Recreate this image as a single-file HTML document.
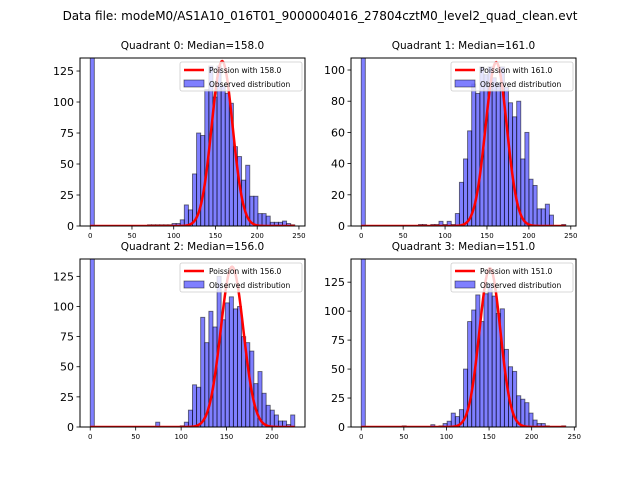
<!DOCTYPE html>
<html><head><meta charset="utf-8"><style>
html,body{margin:0;padding:0;background:#fff;}
svg{display:block;font-family:"DejaVu Sans","Liberation Sans",sans-serif;}
</style></head><body>
<svg id="fig" width="640" height="480">
<text x="320" y="20" text-anchor="middle" font-size="12">Data file: modeM0/AS1A10_016T01_9000004016_27804cztM0_level2_quad_clean.evt</text>
</svg>
<script>
const medians = [158.0, 161.0, 156.0, 151.0];
const xmaxs = [245, 244, 225, 240];
const ymaxs = [135.5, 107.7, 139.4, 145];
const peaks = [133, 105, 133, 137];
const yStep = [25, 20, 25, 25];
const xTicks = [[0,50,100,150,200,250],[0,50,100,150,200,250],[0,50,100,150,200],[0,50,100,150,200,250]];
const counts0 = [1200,0,0,0,0,0,0,0,0,0,0,0,0,0,1,1,1,1,1,1,2,2,5,17,13,42,75,73,110,129,104,129,113,107,99,64,56,37,49,24,24,10,10,8,3,3,3,4,2,1];
const counts1 = [1200,0,0,0,0,0,0,0,0,0,0,0,0,0,1,1,0,1,1,3,1,3,1,8,28,43,61,91,85,102,97,102,95,92,102,89,79,70,80,43,60,30,26,11,11,14,7,0,0,1];
const counts2 = [1200,0,0,0,0,0,0,0,0,0,0,0,0,0,0,0,4,0,0,0,0,0,1,4,14,35,33,91,70,96,83,125,89,103,108,98,100,75,70,63,36,46,28,18,14,10,5,5,2,10];
const counts3 = [1200,0,0,0,0,0,0,0,0,0,1,0,0,0,0,0,0,2,0,1,3,5,12,9,15,50,91,101,114,91,115,124,113,98,102,67,52,48,27,24,21,12,6,3,3,1,0,0,0,1];
const allCounts = [counts0, counts1, counts2, counts3];

const NS = "http://www.w3.org/2000/svg";
const svg = document.getElementById('fig');
const boxes = [[80,58,305,226],[351,58,576,226],[80,259,305,427],[351,259,576,427]];
function mk(tag, attrs, parent){const e=document.createElementNS(NS,tag);for(const k in attrs)e.setAttribute(k,attrs[k]);(parent||svg).appendChild(e);return e;}

for(let q=0;q<4;q++){
  const [L,T,R,B]=boxes[q];
  const xmax=xmaxs[q], m=xmax*0.05, x0=-m, x1=xmax+m;
  const sx=v=>L+(v-x0)/(x1-x0)*(R-L);
  const sy=v=>B-v/ymaxs[q]*(B-T);
  const g=mk('g',{});
  
  
  const clipId='c'+q;
  const cp=mk('clipPath',{id:clipId},g);
  mk('rect',{x:L,y:T,width:R-L,height:B-T},cp);
  const bars=mk('g',{'clip-path':'url(#'+clipId+')'},g);
  const counts=allCounts[q], n=counts.length, bw=xmax/n;
  for(let k=0;k<n;k++){
    if(!counts[k])continue;
    const r=mk('rect',{x:sx(k*bw),y:sy(counts[k]),width:sx((k+1)*bw)-sx(k*bw),height:B-sy(counts[k]),fill:'rgba(0,0,255,0.5)',stroke:'rgba(0,0,0,0.55)','stroke-width':0.9},bars);
    
    
  }
  const mu=medians[q], sig=Math.sqrt(mu);
  let d='';
  for(let v=0;v<=Math.floor(xmax);v++){
    const y=peaks[q]*Math.exp(-(v-mu)*(v-mu)/(2*sig*sig));
    d+=(v?'L':'M')+sx(v).toFixed(2)+','+sy(y).toFixed(2);
  }
  const line=mk('path',{d:d,fill:'none',stroke:'#ff0000','stroke-width':2.5},bars);
  
  
  mk('rect',{x:L,y:T,width:R-L,height:B-T,fill:'none',stroke:'#000','stroke-width':1},g);
  for(let v=0;v<=ymaxs[q];v+=yStep[q]){
    const y=sy(v);
    mk('line',{x1:L-3.5,x2:L,y1:y,y2:y,stroke:'#000','stroke-width':0.8},g);
    const t=mk('text',{x:L-6,y:y+4,'text-anchor':'end','font-size':11},g);
    t.textContent=v;
    
    
  }
  for(const v of xTicks[q]){
    const x=sx(v);
    mk('line',{x1:x,x2:x,y1:B,y2:B+3.5,stroke:'#000','stroke-width':0.8},g);
    const t=mk('text',{x:x,y:B+12,'text-anchor':'middle','font-size':7},g);
    t.textContent=v;
    
    
  }
  const ti=mk('text',{x:(L+R)/2,y:T-9,'text-anchor':'middle','font-size':10.5},g);
  ti.textContent='Quadrant '+q+': Median='+mu.toFixed(1);
  
  
  const lg=mk('g',{},g);
  
  
  const lx=R-125, ly=T+4;
  mk('rect',{x:lx,y:ly,width:122,height:29,rx:2,fill:'rgba(255,255,255,0.8)',stroke:'#ccc','stroke-width':0.8},lg);
  mk('line',{x1:lx+4,x2:lx+24,y1:ly+8,y2:ly+8,stroke:'#ff0000','stroke-width':2.5},lg);
  const t1=mk('text',{x:lx+29,y:ly+11,'font-size':7.5},lg);
  t1.textContent='Poission with '+mu.toFixed(1);
  mk('rect',{x:lx+4,y:ly+18,width:20,height:7,fill:'rgba(0,0,255,0.5)',stroke:'rgba(0,0,0,0.55)','stroke-width':0.8},lg);
  const t2=mk('text',{x:lx+29,y:ly+25,'font-size':7.5},lg);
  t2.textContent='Observed distribution';
}
</script>
</body></html>
